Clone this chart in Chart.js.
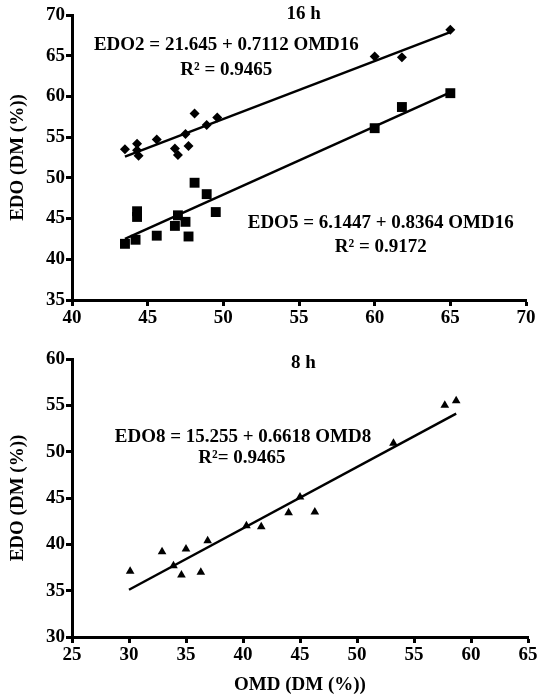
<!DOCTYPE html>
<html>
<head>
<meta charset="utf-8">
<script src="https://cdn.jsdelivr.net/npm/chart.js@4.4.1/dist/chart.umd.min.js"></script>
<style>
  html, body { margin: 0; padding: 0; background: #fff; }
  #wrap { position: relative; width: 541px; height: 696px; }
  canvas { position: absolute; left: 0; }
  #top { top: 0; }
  #bottom { top: 340px; }
</style>
</head>
<body>
<div id="wrap">
  <canvas id="top" width="541" height="340"></canvas>
  <canvas id="bottom" width="541" height="356"></canvas>
</div>
<script>
// ---- data ----
// 16 h panel: OMD16 (x) vs EDO2 / EDO5 (y)
const omd16Edo2 = [43.5, 44.3, 44.3, 44.4, 45.6, 46.8, 47.0, 47.5, 47.7, 48.1, 48.9, 49.6, 60.0, 61.8, 65.0];
const edo2 = [53.5, 54.2, 53.4, 52.7, 54.7, 53.6, 52.8, 55.4, 53.9, 57.9, 56.5, 57.4, 64.9, 64.8, 68.2];
const omd16Edo5 = [43.5, 44.2, 44.3, 44.3, 45.6, 46.8, 47.0, 47.5, 47.7, 48.1, 48.9, 49.5, 60.0, 61.8, 65.0];
const edo5 = [41.9, 42.4, 45.9, 45.2, 42.9, 44.1, 45.4, 44.6, 42.8, 49.4, 48.0, 45.8, 56.1, 58.7, 60.4];
// fitted lines (end points as drawn)
const fit2X = [43.5, 65.0];
const fit2Y = [52.6, 67.9];
const fit5X = [43.5, 65.0];
const fit5Y = [42.5, 60.5];

// 8 h panel: OMD8 (x) vs EDO8 (y)
const omd8 = [30.1, 32.9, 33.9, 34.6, 35.0, 36.3, 36.9, 40.3, 41.6, 44.0, 45.0, 46.3, 53.2, 57.7, 58.7];
const edo8 = [37.1, 39.2, 37.7, 36.7, 39.5, 37.0, 40.4, 42.0, 41.9, 43.4, 45.1, 43.5, 50.9, 55.0, 55.5];
const fit8X = [30.0, 58.7];
const fit8Y = [35.1, 54.1];

// axis ticks
const topXTicks = [40, 45, 50, 55, 60, 65, 70];
const topYTicks = [35, 40, 45, 50, 55, 60, 65, 70];
const botXTicks = [25, 30, 35, 40, 45, 50, 55, 60, 65];
const botYTicks = [30, 35, 40, 45, 50, 55, 60];

// text
const topTitle = '16 h';
const botTitle = '8 h';
const eqEdo2 = ['EDO2 = 21.645 + 0.7112 OMD16', 'R\u00b2 = 0.9465'];
const eqEdo5 = ['EDO5 = 6.1447 + 0.8364 OMD16', 'R\u00b2 = 0.9172'];
const eqEdo8 = ['EDO8 = 15.255 + 0.6618 OMD8', 'R\u00b2= 0.9465'];
const yTitle = 'EDO (DM (%))';
const xTitle = 'OMD (DM (%))';

const FONT = '"Liberation Serif", "Times New Roman", serif';

function pts(xs, ys) {
    return xs.map((x, i) => ({ x: x, y: ys[i] }));
}

// draws text labels placed at data coordinates
const textPlugin = {
    id: 'texts',
    afterDatasetsDraw(chart, args, opts) {
        const ctx = chart.ctx;
        const xs = chart.scales.x, ys = chart.scales.y;
        ctx.save();
        ctx.fillStyle = '#000';
        ctx.textAlign = 'center';
        ctx.textBaseline = 'middle';
        (opts.items || []).forEach(it => {
            ctx.font = 'bold ' + (it.size || 19) + 'px ' + FONT;
            ctx.fillText(it.text, xs.getPixelForValue(it.x), ys.getPixelForValue(it.y));
        });
        ctx.restore();
    }
};

function axis(min, max, ticks, opts) {
    return Object.assign({
        type: 'linear',
        min: min,
        max: max,
        afterBuildTicks: (s) => { s.ticks = ticks.map(v => ({ value: v })); },
        border: { display: true, color: '#000', width: 3 },
        grid: { display: true, drawOnChartArea: false, drawTicks: true, tickLength: 6, tickWidth: 3, tickColor: '#000' },
        ticks: { color: '#000', padding: 1, font: { family: FONT, size: 19, weight: 'bold' } }
    }, opts);
}

function makeChart(id, datasets, xs, ys, padding, titleX, items) {
    return new Chart(document.getElementById(id), {
        type: 'scatter',
        data: { datasets: datasets },
        options: {
            responsive: false,
            animation: false,
            layout: { padding: padding },
            plugins: {
                legend: { display: false },
                tooltip: { enabled: false },
                texts: { items: items }
            },
            scales: {
                x: axis(xs[0], xs[xs.length - 1], xs, {
                    afterFit: (s) => { s.height = padding.xh; },
                    title: titleX ? { display: true, text: titleX, color: '#000', padding: { top: 2, bottom: 0 }, font: { family: FONT, size: 19, weight: 'bold' } } : { display: false }
                }),
                y: axis(ys[0], ys[ys.length - 1], ys, {
                    afterFit: (s) => { s.width = 72; },
                    title: { display: true, text: yTitle, color: '#000', padding: { top: 7, bottom: 0 }, font: { family: FONT, size: 19, weight: 'bold' } }
                })
            }
        },
        plugins: [textPlugin]
    });
}

const lineStyle = { showLine: true, borderColor: '#000', borderWidth: 2.5, pointRadius: 0, fill: false };
const markStyle = { backgroundColor: '#000', borderColor: '#000', borderWidth: 0 };

makeChart('top', [
    Object.assign({ data: pts(fit2X, fit2Y) }, lineStyle),
    Object.assign({ data: pts(fit5X, fit5Y) }, lineStyle),
    Object.assign({ data: pts(omd16Edo2, edo2), pointStyle: 'rectRot', pointRadius: 5 }, markStyle),
    Object.assign({ data: pts(omd16Edo5, edo5), pointStyle: 'rect', pointRadius: 7 }, markStyle)
], topXTicks, topYTicks, { top: 15, right: 15, left: 0, bottom: 0, xh: 40 }, null, [
    { text: topTitle, x: 55.3, y: 70.1 },
    { text: eqEdo2[0], x: 50.2, y: 66.3 },
    { text: eqEdo2[1], x: 50.2, y: 63.25 },
    { text: eqEdo5[0], x: 60.4, y: 44.45 },
    { text: eqEdo5[1], x: 60.4, y: 41.5 }
]);

makeChart('bottom', [
    Object.assign({ data: pts(fit8X, fit8Y) }, lineStyle),
    Object.assign({ data: pts(omd8, edo8), pointStyle: 'triangle', pointRadius: 5 }, markStyle)
], botXTicks, botYTicks, { top: 19, right: 13, left: 0, bottom: 0, xh: 59 }, xTitle, [
    { text: botTitle, x: 45.3, y: 59.6 },
    { text: eqEdo8[0], x: 40.0, y: 51.6 },
    { text: eqEdo8[1], x: 39.9, y: 49.3 }
]);
</script>
</body>
</html>
